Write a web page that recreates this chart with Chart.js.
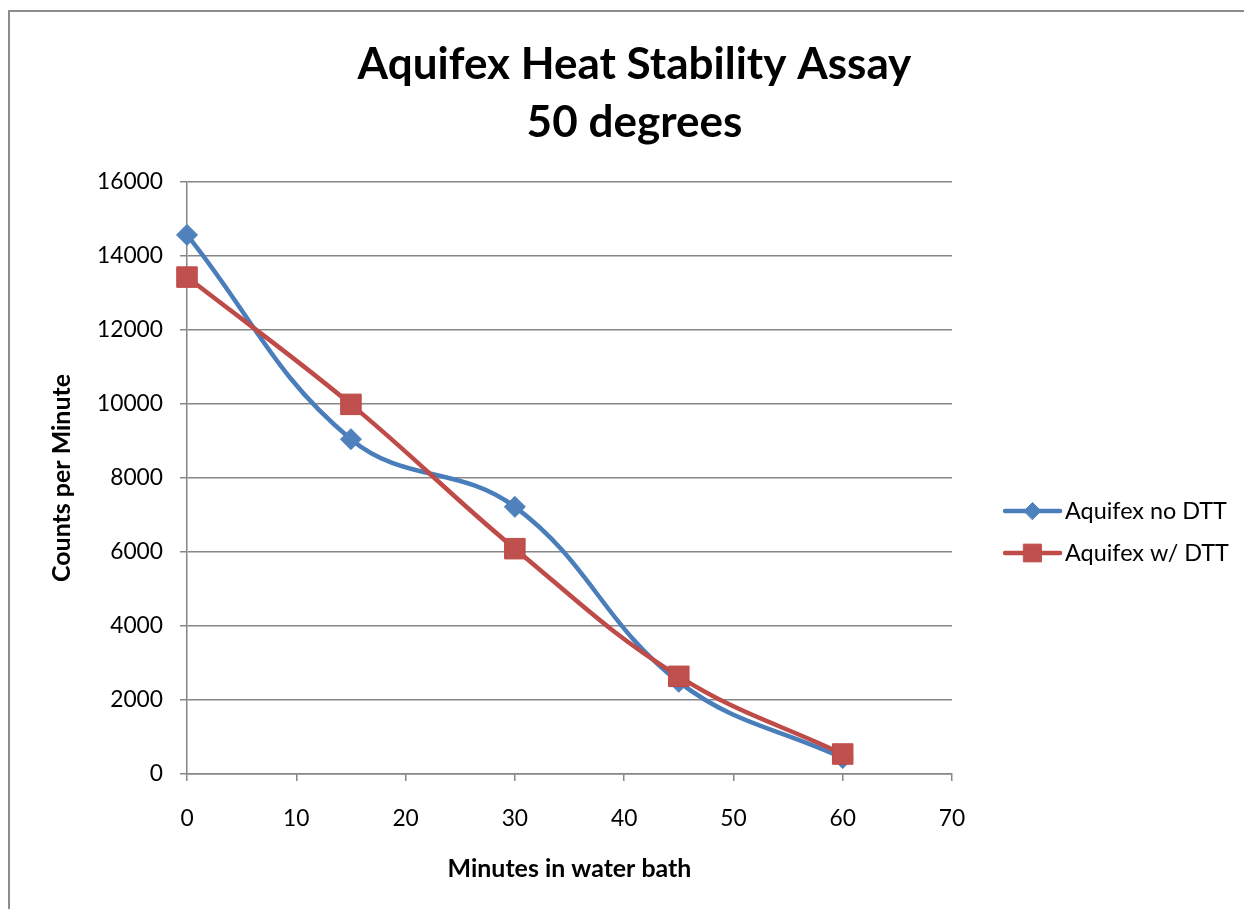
<!DOCTYPE html>
<html><head><meta charset="utf-8">
<script src="https://cdn.jsdelivr.net/npm/chart.js@4.4.1/dist/chart.umd.min.js"></script>
<style>
html,body{margin:0;padding:0;background:#fff;overflow:hidden;width:1244px;height:909px}
#frame{position:absolute;left:8px;top:10px;width:1300px;height:1000px;border:2px solid #8c8c8c;box-sizing:border-box}
#wrap{position:absolute;left:0;top:0;width:1244px;height:909px}
</style></head><body>
<div id="frame"></div>
<div id="wrap"><canvas id="c" width="1244" height="909"></canvas></div>
<script>
// ---- data ----
const titleLines = ['Aquifex Heat Stability Assay', '50 degrees'];
const xTitle = 'Minutes in water bath';
const yTitle = 'Counts per Minute';
const minutes = [0, 15, 30, 45, 60];
const seriesNames = ['Aquifex no DTT', 'Aquifex w/ DTT'];
const noDTT = [14570, 9050, 7220, 2490, 430];
const withDTT = [13430, 9990, 6090, 2640, 540];
const xTickValues = [0, 10, 20, 30, 40, 50, 60, 70];
const yTickValues = [0, 2000, 4000, 6000, 8000, 10000, 12000, 14000, 16000];

// ---- styling / layout ----
const FAMILY = 'Lato, "DejaVu Sans", sans-serif';
const mctx = document.createElement('canvas').getContext('2d');
function fitSize(text, weight, target) {
  mctx.font = weight + ' 100px ' + FAMILY;
  return 100 * target / mctx.measureText(text).width;
}
function textW(text, weight, size) {
  mctx.font = weight + ' ' + size + 'px ' + FAMILY;
  return mctx.measureText(text).width;
}
const titleSize = fitSize(titleLines[0], 'bold', 554);
const tickSize = fitSize('16000', 'normal', 66);
const axisTitleSize = fitSize(xTitle, 'bold', 244);
const legendSize = fitSize(seriesNames[1], 'normal', 164);

const PLOT_LEFT = 187, PLOT_RIGHT = 952, PLOT_TOP = 182, PLOT_BOTTOM = 774;
const PAD_LEFT = 30, PAD_BOTTOM = 20, PAD_TOP = 0;
const TEXT_START = 1065, SYM_L = 1005, SYM_R = 1060;
const legendPad = 42 - legendSize;
const legendBoxW = TEXT_START - PLOT_RIGHT - legendPad - legendSize / 2;
const maxLegendText = Math.max(...seriesNames.map(s => textW(s, 'normal', legendSize)));
const PAD_RIGHT = Math.max(0, 1244 - TEXT_START - maxLegendText - 10);

const BLUE_LINE = '#4A7EBB', BLUE_FILL = '#4F81BD';
const RED_LINE = '#BE4B48', RED_FILL = '#C0504D';
const GRID = '#868686';

const styles = [
  {line: BLUE_LINE, fill: BLUE_FILL, point: 'rectRot', r: 10.5, lr: 8.5},
  {line: RED_LINE, fill: RED_FILL, point: 'rect', r: 14.5, lr: 12.5}
];

function legendSymbol(st) {
  const realX = PLOT_RIGHT + legendPad;
  const cx = realX + legendBoxW / 2;
  const h = Math.ceil(Math.max(cx - SYM_L, SYM_R - cx)) + 4;
  const H = 30;
  const cv = document.createElement('canvas');
  cv.width = 2 * h; cv.height = H;
  const g = cv.getContext('2d');
  const x0 = SYM_L - (cx - h), x1 = SYM_R - (cx - h);
  g.strokeStyle = st.line; g.lineWidth = 4.5; g.lineCap = 'round';
  g.beginPath(); g.moveTo(x0, H / 2); g.lineTo(x1, H / 2); g.stroke();
  g.fillStyle = st.fill; g.strokeStyle = st.line; g.lineWidth = 1;
  Chart.helpers.drawPoint(g, {pointStyle: st.point, radius: st.lr, rotation: 0, borderWidth: 1}, (x0 + x1) / 2, H / 2);
  return cv;
}

const datasets = [noDTT, withDTT].map((vals, i) => ({
  label: seriesNames[i],
  data: minutes.map((m, j) => ({x: m, y: vals[j]})),
  borderColor: styles[i].line,
  backgroundColor: styles[i].fill,
  borderWidth: 4.5,
  pointStyle: styles[i].point,
  pointRadius: styles[i].r,
  pointHoverRadius: styles[i].r,
  pointBackgroundColor: styles[i].fill,
  pointBorderColor: styles[i].line,
  pointBorderWidth: 1,
  tension: 0.4,
  fill: false,
  clip: false,
  order: i === 0 ? 1 : 0
}));

new Chart(document.getElementById('c'), {
  type: 'line',
  data: {datasets},
  options: {
    responsive: false,
    animation: false,
    devicePixelRatio: 1,
    layout: {padding: {left: PAD_LEFT, right: PAD_RIGHT, top: PAD_TOP, bottom: PAD_BOTTOM}},
    plugins: {
      tooltip: {enabled: false},
      title: {
        display: true,
        text: titleLines,
        color: '#000',
        font: {family: FAMILY, size: titleSize, weight: 'bold', lineHeight: 58 / titleSize},
        padding: {top: 36, bottom: 30}
      },
      legend: {
        display: true,
        position: 'right',
        align: 'center',
        title: {display: true, text: ' ', font: {size: 1, lineHeight: 1}, padding: {top: 174, bottom: 0}},
        labels: {
          color: '#000',
          font: {family: FAMILY, size: legendSize},
          padding: legendPad,
          usePointStyle: true,
          pointStyleWidth: legendBoxW,
          generateLabels: () => seriesNames.map((n, i) => ({
            text: n, fillStyle: styles[i].fill, strokeStyle: styles[i].line, fontColor: '#000',
            lineWidth: 0, hidden: false, datasetIndex: i, pointStyle: legendSymbol(styles[i])
          }))
        }
      }
    },
    scales: {
      x: {
        type: 'linear', min: xTickValues[0], max: xTickValues[xTickValues.length - 1],
        afterBuildTicks: s => { s.ticks = xTickValues.map(v => ({value: v})); },
        afterFit: s => { s.height = (909 - PAD_BOTTOM) - PLOT_BOTTOM; },
        ticks: {color: '#000', font: {family: FAMILY, size: tickSize}, padding: 24, maxRotation: 0,
          callback: v => String(v)},
        grid: {drawOnChartArea: false, drawTicks: true, tickLength: 7, color: GRID, lineWidth: 1.5},
        border: {color: GRID, width: 1.5},
        title: {display: true, text: xTitle, color: '#000',
          font: {family: FAMILY, size: axisTitleSize, weight: 'bold', lineHeight: 1.2},
          padding: {top: 0, bottom: 20 - axisTitleSize * 0.6}}
      },
      y: {
        type: 'linear', min: yTickValues[0], max: yTickValues[yTickValues.length - 1],
        afterBuildTicks: s => { s.ticks = yTickValues.map(v => ({value: v})); },
        afterFit: s => { s.width = PLOT_LEFT - PAD_LEFT; },
        ticks: {color: '#000', font: {family: FAMILY, size: tickSize}, padding: 17,
          callback: v => String(v)},
        grid: {drawTicks: true, tickLength: 7, color: GRID, lineWidth: 1.5},
        border: {color: GRID, width: 1.5},
        title: {display: true, text: yTitle, color: '#000',
          font: {family: FAMILY, size: axisTitleSize, weight: 'bold', lineHeight: 1.2},
          padding: {top: 62 - PAD_LEFT - axisTitleSize * 0.6, bottom: 0}}
      }
    }
  }
});
</script>
</body></html>
